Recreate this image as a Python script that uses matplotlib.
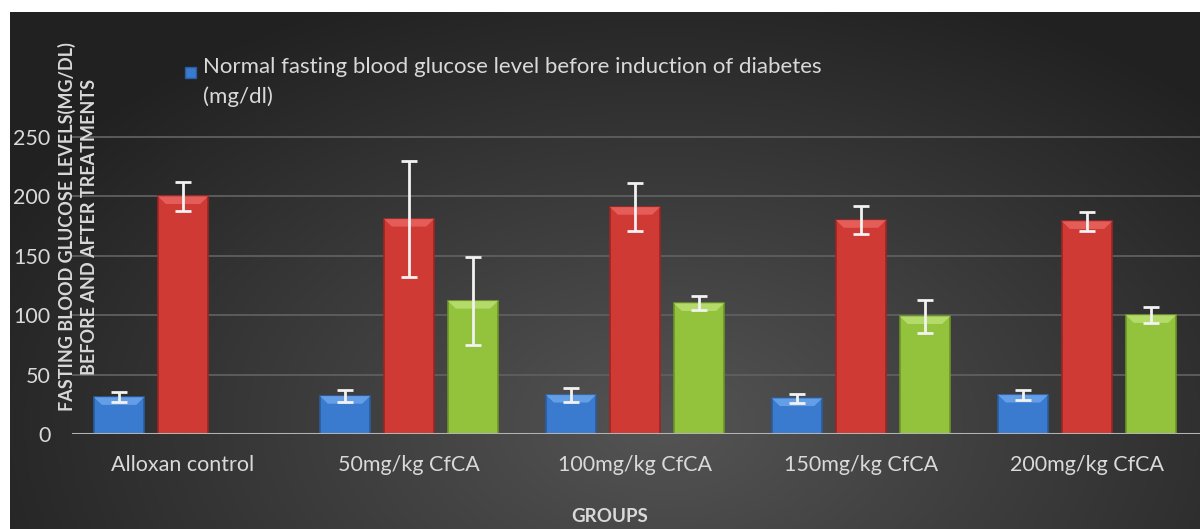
import numpy as np
import matplotlib
matplotlib.use("Agg")
import matplotlib.pyplot as plt
from matplotlib.patches import Patch, Polygon, Rectangle
from matplotlib.legend_handler import HandlerPatch

# data
groups = ["Alloxan control", "50mg/kg CfCA", "100mg/kg CfCA", "150mg/kg CfCA", "200mg/kg CfCA"]
before_vals = [31, 32, 33, 30, 33]
before_err = [4, 5, 6, 4, 4]
induced_vals = [200, 181, 191, 180, 179]
induced_err = [12, 49, 20, 12, 8]
after_vals = [np.nan, 112, 110, 99, 100]
after_err = [np.nan, 37, 6, 14, 7]
legend_label = "Normal fasting blood glucose level before induction of diabetes\n(mg/dl)"
yticks = [0, 50, 100, 150, 200, 250]

plt.rcParams["font.family"] = ["Lato", "DejaVu Sans"]
TXT = "#d9d9d9"

W, H = 1200, 529
fig = plt.figure(figsize=(W / 100, H / 100), dpi=100)
fig.patch.set_facecolor("white")

# dark radial-ish gradient background
bg = fig.add_axes([10 / W, 0, 1 - 10 / W, 1 - 12 / H])
gx, gy = np.meshgrid(np.linspace(0, 1, 400), np.linspace(0, 1, 200))
r = np.sqrt(((gx - 0.55) / 0.7) ** 2 + ((gy - 0.2) / 1.0) ** 2)
shade = np.clip(0.33 - 0.22 * r, 0.13, 0.33)
bg.imshow(np.dstack([shade, shade, shade]), origin="lower", aspect="auto",
          extent=[0, 1, 0, 1])
bg.axis("off")

ax = fig.add_axes([70 / W, 1 - 434 / H, 1 - 70 / W, (434 - 12) / H])
ax.patch.set_alpha(0)
for s in ax.spines.values():
    s.set_visible(False)

x = np.arange(len(groups))
bw = 0.222
off = 0.283
bev_x, bev_y = 0.035, 6.5

series = [
    (before_vals, before_err, -off, "#3a7bcf", "#72aaf0", "#2a5c9e"),
    (induced_vals, induced_err, 0, "#cf3a35", "#ec6a64", "#9c2622"),
    (after_vals, after_err, off, "#93c23c", "#c0e37a", "#6e9528"),
]
for vals, errs, dx, col, hi, edge in series:
    vals = np.array(vals, dtype=float)
    ax.bar(x + dx, vals, bw, color=col, edgecolor=edge, linewidth=1.2, zorder=3)
    # bevelled top like the Excel 3D bar style
    for xi, v in zip(x + dx, vals):
        if np.isnan(v):
            continue
        l, rr = xi - bw / 2, xi + bw / 2
        ax.add_patch(Polygon([(l, v), (rr, v), (rr - bev_x, v - bev_y),
                              (l + bev_x, v - bev_y)], closed=True,
                             facecolor=hi, edgecolor="none", alpha=0.75, zorder=3.5))
    ax.errorbar(x + dx, vals, yerr=errs, fmt="none", ecolor="#f2f2f2",
                elinewidth=2, capsize=6, capthick=2, zorder=4)

ax.set_xlim(-0.5, len(groups) - 0.5)
ax.set_ylim(0, 355)
ax.set_yticks(yticks)
ax.set_xticks(x)
ax.set_xticklabels(groups)
ax.tick_params(axis="both", length=0, colors=TXT, labelsize=15.5)
ax.tick_params(axis="y", pad=14)
ax.tick_params(axis="x", pad=15)
for t in yticks[1:]:
    ax.axhline(t, color="#5f5f5f", linewidth=1.3, zorder=1, xmin=0.003)
ax.axhline(0, color="#b3b3b3", linewidth=2.2, zorder=5, xmin=0.003)


# legend square sits next to the first line of the two-line label
def top_square(legend, orig_handle, xdescent, ydescent, width, height, fontsize):
    size = width
    return Rectangle((-xdescent, -ydescent + height - size - 0.2 * fontsize), size, size)


leg = ax.legend(handles=[Patch(facecolor="#3a7bcf", edgecolor="#2a5c9e")],
                labels=[legend_label], loc="upper left",
                bbox_to_anchor=(0.094, 0.915), frameon=False, fontsize=16,
                handlelength=0.5, handleheight=2.5, handletextpad=0.3,
                labelcolor=TXT, borderaxespad=0,
                handler_map={Patch: HandlerPatch(patch_func=top_square)})
leg.get_texts()[0].set_linespacing(1.6)

fig.text(78 / W, 1 - 227 / H,
         "FASTING BLOOD GLUCOSE LEVELS(MG/DL)\nBEFORE AND AFTER TREATMENTS",
         rotation=90, ha="center", va="center", multialignment="center",
         fontsize=13, fontweight="bold", color=TXT, linespacing=1.3)
fig.text(610 / W, 1 - 517 / H, "GROUPS", ha="center", va="center",
         fontsize=13.5, fontweight="bold", color=TXT)

fig.savefig("out.png", dpi=100)
